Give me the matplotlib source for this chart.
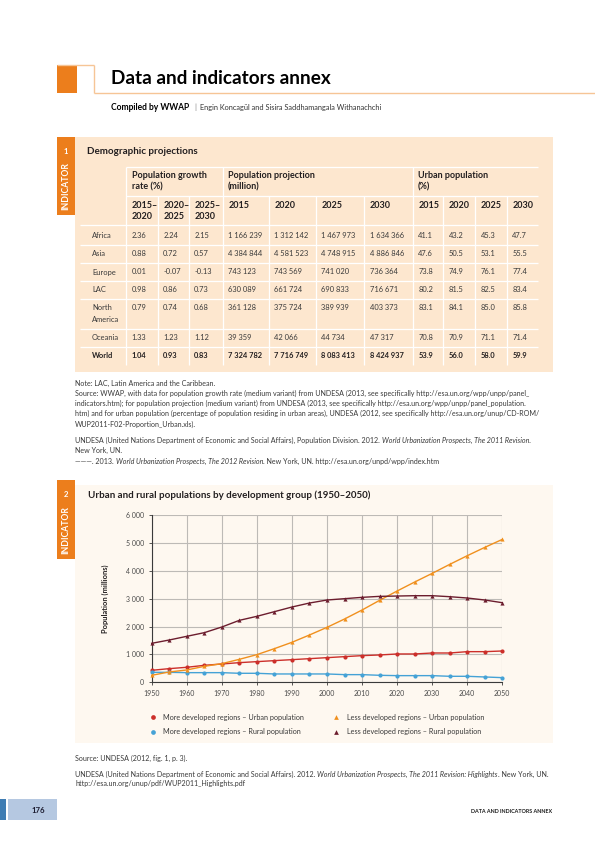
import matplotlib
matplotlib.use('Agg')
import matplotlib.pyplot as plt
from matplotlib.patches import Rectangle
from matplotlib.ticker import FuncFormatter, MultipleLocator

plt.rcParams['font.family'] = ['Lato', 'DejaVu Sans']

# ---------------- data ----------------
regions = ['Africa', 'Asia', 'Europe', 'LAC', 'North\nAmerica', 'Oceania', 'World']
growth_periods = ['2015–\n2020', '2020–\n2025', '2025–\n2030']
growth_rate = [[2.36, 2.24, 2.15], [0.88, 0.72, 0.57], [0.01, -0.07, -0.13],
               [0.98, 0.86, 0.73], [0.79, 0.74, 0.68], [1.33, 1.23, 1.12],
               [1.04, 0.93, 0.83]]
proj_years = ['2015', '2020', '2025', '2030']
pop_projection = [[1166239, 1312142, 1467973, 1634366],
                  [4384844, 4581523, 4748915, 4886846],
                  [743123, 743569, 741020, 736364],
                  [630089, 661724, 690833, 716671],
                  [361128, 375724, 389939, 403373],
                  [39359, 42066, 44734, 47317],
                  [7324782, 7716749, 8083413, 8424937]]
urban_years = ['2015', '2020', '2025', '2030']
urban_pct = [[41.1, 43.2, 45.3, 47.7], [47.6, 50.5, 53.1, 55.5],
             [73.8, 74.9, 76.1, 77.4], [80.2, 81.5, 82.5, 83.4],
             [83.1, 84.1, 85.0, 85.8], [70.8, 70.9, 71.1, 71.4],
             [53.9, 56.0, 58.0, 59.9]]

years = [1950, 1955, 1960, 1965, 1970, 1975, 1980, 1985, 1990, 1995, 2000,
         2005, 2010, 2015, 2020, 2025, 2030, 2035, 2040, 2045, 2050]
more_dev_urban = [430, 490, 538, 609, 657, 705, 741, 777, 812, 848, 884,
                  920, 956, 980, 1016, 1016, 1051, 1051, 1099, 1099, 1123]
more_dev_rural = [358, 358, 346, 346, 346, 323, 323, 299, 299, 299, 299,
                  275, 275, 251, 239, 239, 239, 215, 215, 191, 167]
less_dev_urban = [251, 370, 442, 573, 669, 824, 992, 1207, 1434, 1697, 1971,
                  2270, 2593, 2939, 3274, 3596, 3907, 4229, 4540, 4839, 5125]
less_dev_rural = [1398, 1517, 1649, 1780, 1983, 2222, 2366, 2533, 2700, 2843, 2951,
                  2999, 3047, 3082, 3094, 3106, 3106, 3070, 3023, 2951, 2855]
series_labels = ['More developed regions – Urban population',
                 'More developed regions – Rural population',
                 'Less developed regions – Urban population',
                 'Less developed regions – Rural population']

# ---------------- styles ----------------
ORANGE = '#EC7E1C'
LIGHT_OR = '#F6C596'
TABLE_BG = '#FDE7CF'
CHART_BG = '#FEF8F0'
TXT = '#231F20'
NOTE = '#3A3A3A'
C_RED = '#CC2F2A'
C_BLUE = '#45A2D6'
C_ORG = '#F0901E'
C_MAR = '#6C1D2E'

fig = plt.figure(figsize=(5.95, 8.42), dpi=100)
fig.patch.set_facecolor('white')
ax0 = fig.add_axes([0, 0, 1, 1])
ax0.set_xlim(0, 595)
ax0.set_ylim(842, 0)
ax0.axis('off')
renderer = fig.canvas.get_renderer()


def put(x, y, s, size=5.0, width=None, **kw):
    kw.setdefault('va', 'center')
    kw.setdefault('ha', 'left')
    kw.setdefault('color', TXT)
    t = ax0.text(x, y, s, fontsize=size, **kw)
    if width:
        w = t.get_window_extent(renderer).width
        t.set_fontsize(size * width / w)
    return t


def fit_size(s, size, width, **kw):
    t = ax0.text(0, 0, s, fontsize=size, **kw)
    w = t.get_window_extent(renderer).width
    t.remove()
    return size * width / w


def put_runs(x, y, runs, size, color=NOTE):
    for s, style in runs:
        t = ax0.text(x, y, s, fontsize=size, va='center', ha='left', color=color,
                     style=style)
        x += t.get_window_extent(renderer).width


def rect(x0, y0, x1, y1, color, z=0):
    ax0.add_patch(Rectangle((x0, y0), x1 - x0, y1 - y0, facecolor=color,
                            edgecolor='none', zorder=z))


def line(xs, ys, color, lw=0.7, z=1):
    ax0.plot(xs, ys, color=color, lw=lw, zorder=z, solid_capstyle='butt')


# ---------------- page header ----------------
rect(57, 65, 76.5, 93, ORANGE)
line([57, 93.5], [65.3, 65.3], LIGHT_OR, 1.0)
line([93.5, 93.5], [65.3, 92.5], LIGHT_OR, 1.0)
line([93.5, 595], [92.5, 92.5], LIGHT_OR, 1.0)
put(111, 79, 'Data and indicators annex', 13, width=218, weight='bold', color='black')
put(111, 107.5, 'Compiled by WWAP', 5.5, width=79, weight='bold', color='black')
put(194, 107.5, '|', 5.5, color='#777777')
put(199.5, 107.5, 'Engin Koncagül and Sisira Saddhamangala Withanachchi', 5.5,
    width=182, color='#333333')

# ---------------- indicator tabs ----------------
def tab(y0, y1, num, ycenter):
    rect(57, y0, 75, y1, ORANGE, z=2)
    ax0.text(66, y0 + 14.5, num, fontsize=5.6, weight='bold', color='white',
             ha='center', va='center', zorder=3)
    ax0.text(66, ycenter, 'INDICATOR', fontsize=6.2, weight='bold', color='white',
             ha='center', va='center', rotation=90, zorder=3)

# ---------------- table panel ----------------
rect(75, 137, 553, 372, TABLE_BG)
tab(137, 215, '1', 186)
put(87, 151, 'Demographic projections', 7, width=112, weight='bold')

bounds = [126, 157.7, 188.7, 222.7, 269, 315.7, 364.3, 412.7, 443.3, 475, 506.7, 538]
WL = 'white'
line([126, 538], [166.5, 166.5], WL, 0.9)
line([126, 538], [195.5, 195.5], WL, 0.9)
line([80, 538], [225, 225], WL, 0.9)
for b in bounds[:-1]:
    top = 166.5 if b in (126, 222.7, 412.7) else 195.5
    line([b, b], [top, 365], WL, 0.9)

row_y = [236, 254, 272, 290, 307, 338, 356]
for yy in [245, 263, 281, 299, 329, 347]:
    line([80, 538], [yy, yy], WL, 0.9)

hs = fit_size('Population growth', 6, 74.5, weight='bold')
put(132, 175, 'Population growth', hs, weight='bold')
put(132, 187.3, 'rate (%)', hs, weight='bold')
put(227.5, 175, 'Population projection', hs, weight='bold')
put(227.5, 187.3, '(million)', hs, weight='bold')
put(418, 175, 'Urban population', hs, weight='bold')
put(418, 187.3, '(%)', hs, weight='bold')

col_x = [b + 5.5 for b in bounds[:-1]]
headers2 = growth_periods + proj_years + urban_years
for cx, h in zip(col_x, headers2):
    for k, part in enumerate(h.split('\n')):
        put(cx, 205 + k * 11.7, part, hs, weight='bold')

ds = fit_size('1 166 239', 5.5, 34)
for r, reg in enumerate(regions):
    w = 'bold' if reg == 'World' else 'normal'
    c = TXT if reg == 'World' else '#3A3A3A'
    for k, part in enumerate(reg.split('\n')):
        put(92, row_y[r] + k * 13, part, ds, weight=w, color=c)
    vals = ([f'{v:.2f}' for v in growth_rate[r]] +
            [f'{v:,}'.replace(',', ' ') for v in pop_projection[r]] +
            [f'{v:.1f}' for v in urban_pct[r]])
    for cx, v in zip(col_x, vals):
        put(cx, row_y[r], v, ds, weight=w, color=c)

# ---------------- notes ----------------
src_line = ('Source: WWAP, with data for population growth rate (medium variant) '
            'from UNDESA (2013, see specifically http://esa.un.org/wpp/unpp/panel_')
ns = fit_size(src_line, 5, 455)
put(75, 383, 'Note: LAC, Latin America and the Caribbean.', ns, color=NOTE)
put(75, 393.5, src_line, ns, color=NOTE)
put(75, 403.5, 'indicators.htm); for population projection (medium variant) from UNDESA '
    '(2013, see specifically http://esa.un.org/wpp/unpp/panel_population.', ns, color=NOTE)
put(75, 413.5, 'htm) and for urban population (percentage of population residing in urban '
    'areas), UNDESA (2012, see specifically http://esa.un.org/unup/CD-ROM/', ns, color=NOTE)
put(75, 424, 'WUP2011-F02-Proportion_Urban.xls).', ns, color=NOTE)
put_runs(75, 440, [('UNDESA (United Nations Department of Economic and Social Affairs), '
                    'Population Division. 2012. ', 'normal'),
                   ('World Urbanization Prospects, The 2011 Revision.', 'italic')], ns)
put(75, 450.5, 'New York, UN.', ns, color=NOTE)
put_runs(75, 461, [('———. 2013. ', 'normal'),
                   ('World Urbanization Prospects, The 2012 Revision', 'italic'),
                   ('. New York, UN. http://esa.un.org/unpd/wpp/index.htm', 'normal')], ns)

# ---------------- chart panel ----------------
rect(75, 485, 553, 743, CHART_BG)
tab(480, 559, '2', 530)
put(88, 495, 'Urban and rural populations by development group (1950–2050)', 7,
    width=285, weight='bold')

L, R, B, T = 151.7, 502.3, 682.3, 515.0
ax = fig.add_axes([L / 595, 1 - B / 842, (R - L) / 595, (B - T) / 842])
ax.patch.set_visible(False)
ax.set_xlim(1950, 2050)
ax.set_ylim(0, 6000)
ax.xaxis.set_major_locator(MultipleLocator(10))
ax.yaxis.set_major_locator(MultipleLocator(1000))
ax.yaxis.set_major_formatter(FuncFormatter(lambda v, p: f'{int(v):,}'.replace(',', ' ')))
ax.grid(True, color='#BDBAB6', lw=0.8)
ax.set_axisbelow(True)
for s in ['top', 'right']:
    ax.spines[s].set_visible(False)
for s in ['left', 'bottom']:
    ax.spines[s].set_color('#3A3A3A')
    ax.spines[s].set_linewidth(0.8)
ax.tick_params(axis='both', labelsize=5.0, colors='#3A3A3A', length=2.5, width=0.6,
               labelcolor='#4A4A4A')
ax.tick_params(axis='y', pad=3)
ax.tick_params(axis='x', pad=3)
ax.set_ylabel('Population (millions)', fontsize=5.4, weight='bold', color=TXT, labelpad=12)

series = [(more_dev_urban, C_RED, 'o'), (more_dev_rural, C_BLUE, 'o'),
          (less_dev_urban, C_ORG, '^'), (less_dev_rural, C_MAR, '^')]
for vals, col, mk in series:
    ax.plot(years, vals, color=col, lw=1.0, marker=mk, markersize=3.0,
            markeredgewidth=0, clip_on=False, zorder=3)

# legend
leg_pos = [(152.7, 717.3), (152.7, 731.5), (336, 717.3), (336, 731.5)]
ls = fit_size(series_labels[0], 5, 142)
for (vals, col, mk), lab, (lx, ly) in zip(series, series_labels, leg_pos):
    ax0.plot([lx], [ly], marker=mk, color=col, markersize=3.4, markeredgewidth=0)
    put(lx + 10.7, ly, lab, ls, color='#3A3A3A')

# ---------------- chart source ----------------
put(75, 758.3, 'Source: UNDESA (2012, fig. 1, p. 3).', ns, color=NOTE)
put_runs(75, 774, [('UNDESA (United Nations Department of Economic and Social Affairs). 2012. ',
                    'normal'),
                   ('World Urbanization Prospects, The 2011 Revision: Highlights', 'italic'),
                   ('. New York, UN.', 'normal')], ns)
put(75, 783.5, 'http://esa.un.org/unup/pdf/WUP2011_Highlights.pdf', ns, color=NOTE)

# ---------------- footer ----------------
rect(0, 799, 6, 819.5, '#3F7DB3')
rect(8, 799, 57, 819.5, '#B5C8E1')
put(38.5, 810.5, '176', 5.6, weight='bold', ha='center', color='#1B1B2F')
put(552.5, 811.5, 'DATA AND INDICATORS ANNEX', 4.5, width=82, weight='bold', ha='right',
    color='#1B1B1B')

fig.savefig('out.png', dpi=100, facecolor='white')
